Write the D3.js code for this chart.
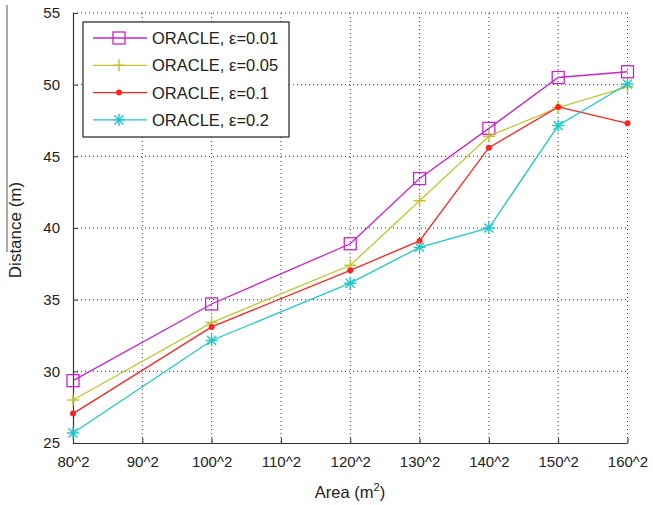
<!DOCTYPE html>
<html>
<head>
<meta charset="utf-8">
<script src="https://cdn.jsdelivr.net/npm/d3@7"></script>
<style>
html,body{margin:0;padding:0;background:#fff;}
svg{display:block;}
text{font-family:"Liberation Sans",Arial,sans-serif;fill:#222;}
</style>
</head>
<body>
<svg id="chart" width="653" height="505"></svg>
<script>
// ---- data ----
const xTickValues = [80, 90, 100, 110, 120, 130, 140, 150, 160];
const xTickLabels = ["80^2", "90^2", "100^2", "110^2", "120^2", "130^2", "140^2", "150^2", "160^2"];
const yTickValues = [25, 30, 35, 40, 45, 50, 55];
const areaSides = [80, 100, 120, 130, 140, 150, 160];
const eps001 = [29.35, 34.7, 38.9, 43.45, 46.95, 50.5, 50.9];
const eps005 = [28.0, 33.4, 37.4, 41.9, 46.4, 48.4, 49.85];
const eps01  = [27.05, 33.1, 37.05, 39.1, 45.6, 48.45, 47.3];
const eps02  = [25.7, 32.15, 36.15, 38.65, 40.0, 47.15, 50.05];
const seriesNames = ["ORACLE, \u03b5=0.01", "ORACLE, \u03b5=0.05", "ORACLE, \u03b5=0.1", "ORACLE, \u03b5=0.2"];

const series = [
  {name: seriesNames[0], values: eps001, color: "#cc22cc", marker: "square"},
  {name: seriesNames[1], values: eps005, color: "#c4c432", marker: "plus"},
  {name: seriesNames[2], values: eps01,  color: "#ff2222", marker: "dot"},
  {name: seriesNames[3], values: eps02,  color: "#22c8c8", marker: "star"}
];

const svg = d3.select("#chart");
const L = 73, R = 627.5, T = 13, B = 443;
const x = d3.scaleLinear().domain([80, 160]).range([L, R]);
const y = d3.scaleLinear().domain([25, 55]).range([B, T]);

// grid
const grid = svg.append("g");
grid.selectAll(".gx").data(xTickValues.slice(1)).enter().append("line")
  .attr("x1", d => x(d)).attr("x2", d => x(d)).attr("y1", T).attr("y2", B)
  .attr("stroke", "#333").attr("stroke-width", 1).attr("stroke-dasharray", "1,3");
grid.selectAll(".gy").data(yTickValues.slice(1)).enter().append("line")
  .attr("y1", d => y(d)).attr("y2", d => y(d)).attr("x1", L).attr("x2", R)
  .attr("stroke", "#333").attr("stroke-width", 1).attr("stroke-dasharray", "1,3");

// axes
const xAxis = d3.axisBottom(x).tickValues(xTickValues)
  .tickFormat((d, i) => xTickLabels[i]).tickSizeInner(-5).tickSizeOuter(0).tickPadding(13);
const gx = svg.append("g").attr("transform", `translate(0,${B})`).call(xAxis);
gx.select(".domain").attr("stroke", "#333").attr("stroke-width", 1.2);
gx.selectAll(".tick line").attr("stroke", "#333");
gx.selectAll(".tick text").attr("font-size", 15).attr("fill", "#222")
  .attr("font-family", "Liberation Sans, Arial, sans-serif");

const yAxis = d3.axisLeft(y).tickValues(yTickValues).tickSizeInner(-5).tickSizeOuter(0).tickPadding(13);
const gy = svg.append("g").attr("transform", `translate(${L},0)`).call(yAxis);
gy.select(".domain").attr("stroke", "#333").attr("stroke-width", 1.2);
gy.selectAll(".tick line").attr("stroke", "#333");
gy.selectAll(".tick text").attr("font-size", 15).attr("fill", "#222")
  .attr("font-family", "Liberation Sans, Arial, sans-serif");

// axis titles
const xt = svg.append("text").attr("x", 350).attr("y", 498).attr("text-anchor", "middle").attr("font-size", 16.5);
xt.append("tspan").text("Area (m");
xt.append("tspan").attr("dy", -7).attr("font-size", 11).text("2");
xt.append("tspan").attr("dy", 7).text(")");

svg.append("text").attr("transform", "translate(21,230) rotate(-90)")
  .attr("text-anchor", "middle").attr("font-size", 17).text("Distance (m)");
svg.append("line").attr("x1", 7).attr("x2", 7).attr("y1", 5).attr("y2", 252)
  .attr("stroke", "#555").attr("stroke-width", 1);

// markers
function drawMarker(g, type, cx, cy, color) {
  if (type === "square") {
    g.append("rect").attr("x", cx - 6).attr("y", cy - 6).attr("width", 12).attr("height", 12)
      .attr("fill", "none").attr("stroke", color).attr("stroke-width", 1.3);
  } else if (type === "plus") {
    g.append("path").attr("d", `M${cx-6},${cy}H${cx+6}M${cx},${cy-6}V${cy+6}`)
      .attr("stroke", color).attr("stroke-width", 1.5);
  } else if (type === "dot") {
    g.append("circle").attr("cx", cx).attr("cy", cy).attr("r", 3).attr("fill", color);
  } else if (type === "star") {
    g.append("path").attr("d", `M${cx-6},${cy}H${cx+6}M${cx},${cy-6}V${cy+6}M${cx-4.5},${cy-4.5}L${cx+4.5},${cy+4.5}M${cx-4.5},${cy+4.5}L${cx+4.5},${cy-4.5}`)
      .attr("stroke", color).attr("stroke-width", 1.4);
  }
}

const line = d3.line().x(d => x(d[0])).y(d => y(d[1]));
series.forEach(s => {
  const pts = areaSides.map((a, i) => [a, s.values[i]]);
  svg.append("path").datum(pts).attr("d", line).attr("fill", "none")
    .attr("stroke", s.color).attr("stroke-width", 1.3);
  const mg = svg.append("g");
  pts.forEach(p => drawMarker(mg, s.marker, x(p[0]), y(p[1]), s.color));
});

// legend
const lg = svg.append("g");
lg.append("rect").attr("x", 83).attr("y", 22).attr("width", 206).attr("height", 115)
  .attr("fill", "#fff").attr("stroke", "#222").attr("stroke-width", 1.2);
series.forEach((s, i) => {
  const ly = 38 + i * 27.3;
  lg.append("line").attr("x1", 93).attr("x2", 147).attr("y1", ly).attr("y2", ly)
    .attr("stroke", s.color).attr("stroke-width", 1.3);
  drawMarker(lg, s.marker, 119, ly, s.color);
  lg.append("text").attr("x", 152).attr("y", ly + 6).attr("font-size", 16.5).text(s.name);
});
</script>
</body>
</html>
